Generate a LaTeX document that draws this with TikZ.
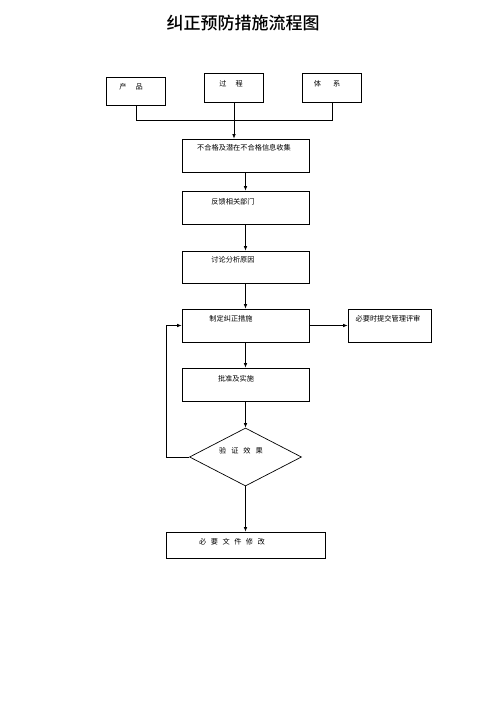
\documentclass[tikz,border=0pt]{standalone}
\usepackage{fontspec}
\newfontfamily\cjk{Noto Sans CJK SC}
\newfontfamily\cjkbold{Noto Sans CJK SC Medium}
\usetikzlibrary{arrows.meta,shapes.geometric}
\begin{document}
\begin{tikzpicture}[x=1pt,y=-1pt,
  box/.style={draw,line width=0.7pt,inner sep=0pt},
  txt/.style={font=\cjk\fontsize{7.2}{8}\selectfont,inner sep=0pt},
  line/.style={line width=0.7pt},
  arr/.style={line width=0.7pt,-{Latex[length=4.5pt,width=3.5pt]}}]
\useasboundingbox (0,0) rectangle (500,708);
\fill[white] (0,0) rectangle (500,708);
% title
\node[font=\cjkbold\fontsize{17}{20}\selectfont,inner sep=0pt] (title) at (243,23) {纠正预防措施流程图};
% top boxes
\node[box,minimum width=59pt,minimum height=28pt] (p) at (136,91) {};
\node[txt] (pt) at (131,87) {产\hspace{9pt}品};
\node[box,minimum width=59pt,minimum height=29pt] (g) at (234,87.5) {};
\node[txt] (gt) at (231,84) {过\hspace{9pt}程};
\node[box,minimum width=59pt,minimum height=29pt] (s) at (332,87.5) {};
\node[txt] (st) at (327,84) {体\hspace{12pt}系};
% main boxes
\node[box,minimum width=127pt,minimum height=33pt] (b1) at (245.5,155.5) {};
\node[txt] (b1t) at (244,148) {不合格及潜在不合格信息收集};
\node[box,minimum width=127pt,minimum height=33pt] (b2) at (245.5,207.5) {};
\node[txt] (b2t) at (233,202) {反馈相关部门};
\node[box,minimum width=127pt,minimum height=32pt] (b3) at (245.5,267) {};
\node[txt] (b3t) at (233,260) {讨论分析原因};
\node[box,minimum width=127pt,minimum height=33pt] (b4) at (245.5,325.5) {};
\node[txt] (b4t) at (231,319) {制定纠正措施};
\node[box,minimum width=83pt,minimum height=33pt] (r) at (389.5,325.5) {};
\node[txt] (rt) at (388,319) {必要时提交管理评审};
\node[box,minimum width=127pt,minimum height=33pt] (b5) at (245.5,384.5) {};
\node[txt] (b5t) at (236,379) {批准及实施};
\node[draw,line width=0.7pt,diamond,aspect=1.93,minimum width=112pt,minimum height=58pt,inner sep=0pt] (d) at (245.5,457) {};
\node[txt] (dt) at (241,451) {验\hspace{5pt}证\hspace{5pt}效\hspace{5pt}果};
\node[box,minimum width=159pt,minimum height=26pt] (b6) at (245.5,545) {};
\node[txt] (b6t) at (232,542) {必\hspace{4.5pt}要\hspace{4.5pt}文\hspace{4.5pt}件\hspace{4.5pt}修\hspace{4.5pt}改};
% connectors
\coordinate (hl) at (136,120);
\coordinate (hr) at (332,120);
\draw[line] (p.south) -- (hl) -- (hr) -- (s.south);
\draw[arr] (g.south) -- (b1.north -| g.south);
\draw[arr] (b1.south) -- (b2.north);
\draw[arr] (b2.south) -- (b3.north);
\draw[arr] (b3.south) -- (b4.north);
\draw[arr] (b4.east) -- (r.west);
\draw[arr] (b4.south) -- (b5.north);
\draw[arr] (b5.south) -- (d.north);
\draw[arr] (d.south) -- (b6.north);
\coordinate (fl) at (166,457);
\draw[arr] (d.west) -- (fl) -- (fl |- b4.west) -- (b4.west);
\end{tikzpicture}
\end{document}
